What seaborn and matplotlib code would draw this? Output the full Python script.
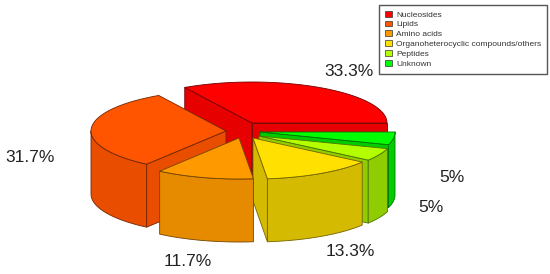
#!/usr/bin/env python3
# 3D-look exploded pie, seaborn only has the theme/palette part here
import numpy as np
import seaborn as sns
from matplotlib import pyplot as plt
from matplotlib.patches import Patch, Polygon

categories = ["Nucleosides", "Lipids", "Amino acids", "Organoheterocyclic compounds/others", "Peptides", "Unknown"]
values = [33.3, 31.7, 11.7, 13.3, 5.0, 5.0]
value_labels = ["33.3%", "31.7%", "11.7%", "13.3%", "5%", "5%"]

sns.set_theme(style="white")
plt.rcParams["font.family"] = ["Liberation Sans", "DejaVu Sans"]

colors = sns.color_palette(["#ff0000", "#ff5500", "#ff9900", "#ffe000", "#b3ff00", "#00ff00"])
side_shade = [0.9, 0.91, 0.9, 0.83, 0.8, 0.8]
CX, CY = 252, 123
RX, RY = 135, 41
DEPTH = 63
EXPLODE = [(0, 0), (-26, 8), (-13, 15), (1, 15), (7, 13), (8, 9)]
LABEL_POS = [(349, 72), (30, 158), (188, 262), (350, 252), (452, 178), (431, 208)]
DRAW_ORDER = [0, 5, 4, 1, 3, 2]


def darker(color, factor):
    return tuple(c * factor for c in color)


def point(angle, cx, cy, radius=1.0):
    rad = np.deg2rad(angle)
    return cx + radius * RX * np.cos(rad), cy - radius * RY * np.sin(rad)


def draw_slice(ax, start, end, color, shade, cx, cy):
    side = darker(color, shade)
    edge = darker(color, 0.45)
    style = dict(edgecolor=edge, linewidth=0.6, joinstyle="round")
    tip = (cx, cy)

    # cut faces: only the ones turned to the viewer get drawn
    for angle in (start, end):
        corner = point(angle, cx, cy)
        facing = (corner[0] - cx) * (1 if angle == start else -1) >= 0
        if facing:
            wall = [tip, corner, (corner[0], corner[1] + DEPTH), (cx, cy + DEPTH)]
            ax.add_patch(Polygon(wall, closed=True, facecolor=side, **style))

    # outer wall, front half only
    low, high = max(start, 180), end
    if high > low:
        angles = np.linspace(low, high, 60)
        xs, ys = point(angles, cx, cy)
        outer = np.r_[np.c_[xs, ys], np.c_[xs[::-1], ys[::-1] + DEPTH]]
        ax.add_patch(Polygon(outer, closed=True, facecolor=side, **style))

    angles = np.linspace(start, end, 120)
    xs, ys = point(angles, cx, cy)
    top = np.r_[[tip], np.c_[xs, ys]]
    ax.add_patch(Polygon(top, closed=True, facecolor=color, **style))


fig, ax = plt.subplots(figsize=(5.5, 2.74), dpi=100)
fig.subplots_adjust(0, 0, 1, 1)
ax.set_xlim(0, 550)
ax.set_ylim(274, 0)
ax.set_xticks([])
ax.set_yticks([])
sns.despine(ax=ax, left=True, bottom=True)

edges = np.r_[0, np.cumsum(values)] / np.sum(values) * 360
for i in DRAW_ORDER:
    draw_slice(ax, edges[i], edges[i + 1], colors[i], side_shade[i], CX + EXPLODE[i][0], CY + EXPLODE[i][1])

for text, (x, y) in zip(value_labels, LABEL_POS):
    ax.text(x, y, text, fontsize=12.5, color="#222222", ha="center", va="center")

handles = [Patch(facecolor=c, edgecolor="#333333", linewidth=0.5) for c in colors]
ax.legend(
    handles,
    categories,
    loc="upper left",
    bbox_to_anchor=(379 / 550, 1 - 5 / 274),
    borderaxespad=0,
    fontsize=6.0,
    frameon=True,
    fancybox=False,
    edgecolor="#555555",
    framealpha=1,
    handlelength=0.8,
    handleheight=0.7,
    handletextpad=0.55,
    labelspacing=0.24,
    borderpad=0.7,
    labelcolor="#333333",
)

fig.savefig("out.png", dpi=100)
